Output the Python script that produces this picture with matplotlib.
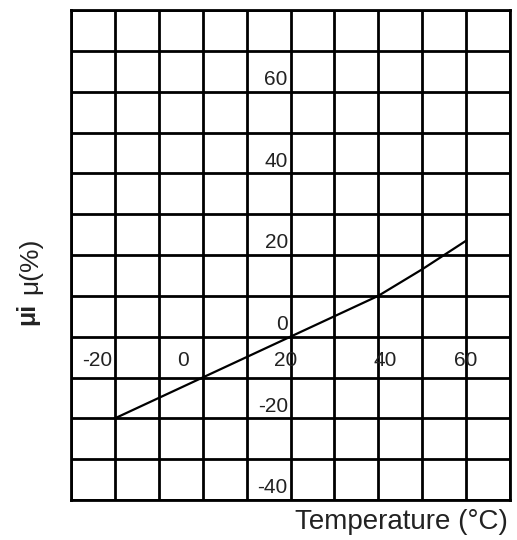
import matplotlib
matplotlib.use("Agg")
import matplotlib.pyplot as plt

plt.rcParams['font.family'] = ['Liberation Sans', 'DejaVu Sans']

# Data
temperature = [-20, 0, 20, 40, 50, 60]
mu_change = [-20, -10, 0, 10, 16.5, 23.5]
x_tick_values = [-20, 0, 20, 40, 60]
y_tick_values = [60, 40, 20, 0, -20, -40]
x_label_text = "Temperature (°C)"

# Style (label nudges, in data units)
x_label_dx = [-4, -4.5, -1, 1.5, 0]

fig = plt.figure(figsize=(5.17, 5.40), dpi=100)
ax = fig.add_axes([71/517, 1-500/540, (510-71)/517, (500-10)/540])
ax.set_xlim(-30, 70)
ax.set_ylim(-40, 80)
ax.set_xticks(range(-30, 71, 10))
ax.set_yticks(range(-40, 81, 10))
ax.grid(True, color='black', linewidth=2.0)
ax.tick_params(length=0, labelbottom=False, labelleft=False)
for s in ax.spines.values():
    s.set_linewidth(2.0)
    s.set_color('black')

ax.plot(temperature, mu_change, color='black', linewidth=1.6, zorder=3)

for v, dx in zip(x_tick_values, x_label_dx):
    ax.text(v + dx, -5.8, str(v), ha='center', va='center', fontsize=15, color='#222222')
for v in y_tick_values:
    ax.text(19.4, v + 3, str(v), ha='right', va='center', fontsize=15, color='#222222')

fig.text(508/517, 1-522/540, x_label_text, ha='right', va='center', fontsize=20, color='#222222')
fig.text(27/517, 1-314/540, "μi", rotation=90, ha='center', va='center', fontsize=18,
         fontweight='bold', color='#222222')
fig.text(30/517, 1-266/540, "μ(%)", rotation=90, ha='center', va='center', fontsize=19,
         color='#222222')

fig.savefig("out.png", dpi=100)
